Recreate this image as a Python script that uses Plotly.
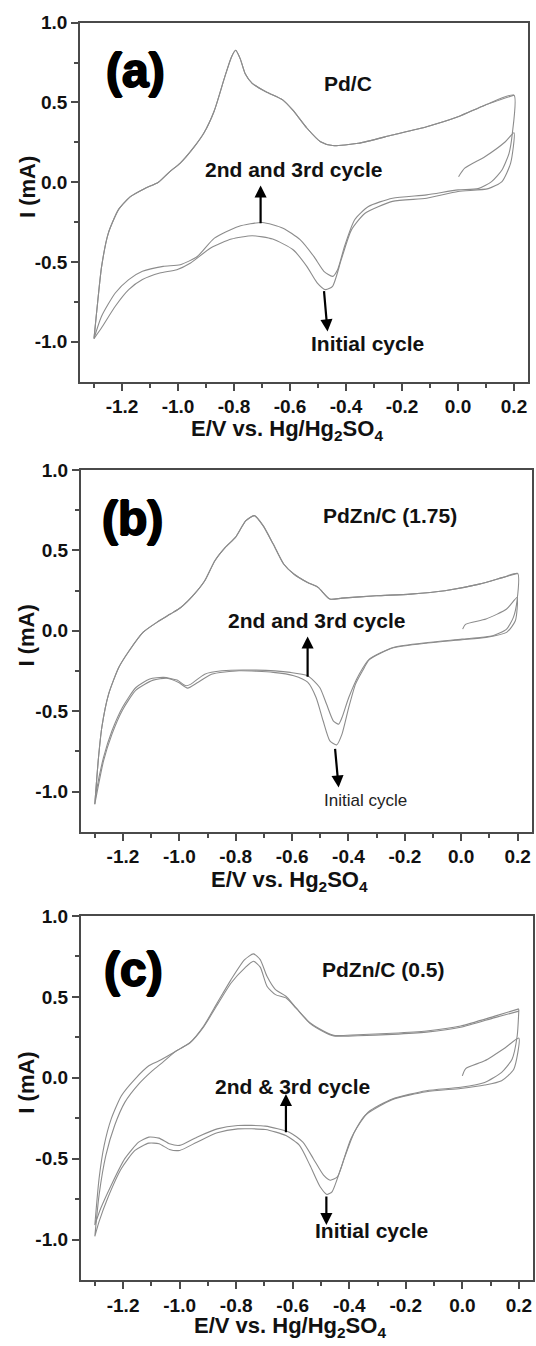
import plotly.graph_objects as go

# ---------------- axes / ticks ----------------
X_RANGE = [-1.35, 0.25]
Y_RANGE = [-1.25, 1.0]
x_tickvals = [-1.2, -1.0, -0.8, -0.6, -0.4, -0.2, 0.0, 0.2]
x_ticktext = ["-1.2", "-1.0", "-0.8", "-0.6", "-0.4", "-0.2", "0.0", "0.2"]
x_minorvals = [-1.3, -1.1, -0.9, -0.7, -0.5, -0.3, -0.1, 0.1]
y_tickvals = [-1.0, -0.5, 0.0, 0.5, 1.0]
y_ticktext = ["-1.0", "-0.5", "0.0", "0.5", "1.0"]
y_minorvals = [-0.75, -0.25, 0.25, 0.75]

# ---------------- panel (a) Pd/C ----------------
a_init_E = [0.002, 0.024, 0.096, 0.169, 0.2, 0.188, 0.157, 0.108, 0.0, -0.112, -0.234, -0.332, -0.381,
            -0.417, -0.448, -0.473, -0.503, -0.54, -0.589, -0.662, -0.735, -0.809, -0.882, -0.955,
            -1.004, -1.065, -1.127, -1.176, -1.224, -1.273, -1.3]
a_init_I = [0.035, 0.088, 0.16, 0.254, 0.31, 0.12, 0.004, -0.04, -0.058, -0.1, -0.12, -0.194, -0.3,
            -0.485, -0.652, -0.673, -0.63, -0.527, -0.423, -0.356, -0.335, -0.356, -0.41, -0.506,
            -0.548, -0.569, -0.61, -0.673, -0.777, -0.912, -0.98]
a_cath_E = [0.2, 0.194, 0.182, 0.157, 0.12, 0.072, 0.0, -0.112, -0.234, -0.32, -0.369, -0.405, -0.43,
            -0.448, -0.479, -0.515, -0.564, -0.625, -0.699, -0.784, -0.87, -0.931, -0.992, -1.053,
            -1.127, -1.176, -1.224, -1.273, -1.3]
a_cath_I = [0.546, 0.306, 0.18, 0.077, 0.004, -0.04, -0.048, -0.079, -0.1, -0.152, -0.235, -0.4, -0.548,
            -0.59, -0.558, -0.465, -0.36, -0.288, -0.252, -0.277, -0.35, -0.465, -0.517, -0.527,
            -0.558, -0.61, -0.694, -0.84, -0.98]
a_an_E = [-1.3, -1.286, -1.273, -1.249, -1.212, -1.17, -1.12, -1.07, -1.029, -0.992, -0.943, -0.907,
          -0.87, -0.833, -0.809, -0.794, -0.778, -0.76, -0.735, -0.686, -0.625, -0.589, -0.54, -0.491,
          -0.448, -0.356, -0.234, -0.112, 0.0, 0.096, 0.2]
a_an_I = [-0.98, -0.735, -0.53, -0.32, -0.17, -0.09, -0.04, 0.0, 0.067, 0.12, 0.22, 0.31,
          0.45, 0.66, 0.785, 0.827, 0.775, 0.68, 0.62, 0.567, 0.515, 0.45, 0.34, 0.254,
          0.23, 0.244, 0.296, 0.348, 0.41, 0.483, 0.546]

# ---------------- panel (b) PdZn/C (1.75) ----------------
b_init_E = [0.005, 0.015, 0.088, 0.161, 0.198, 0.192, 0.161, 0.088, 0.003, -0.119, -0.241, -0.326, -0.35,
            -0.375, -0.399, -0.423, -0.442, -0.466, -0.49, -0.515, -0.545, -0.594, -0.667, -0.788,
            -0.886, -0.935, -0.971, -1.002, -1.044, -1.093, -1.154, -1.202, -1.239, -1.269, -1.3]
b_init_I = [0.01, 0.04, 0.073, 0.135, 0.207, 0.062, -0.01, -0.041, -0.056, -0.076, -0.106, -0.18, -0.249,
            -0.332, -0.477, -0.643, -0.71, -0.685, -0.56, -0.415, -0.32, -0.28, -0.259, -0.249,
            -0.27, -0.322, -0.357, -0.322, -0.295, -0.307, -0.369, -0.494, -0.643, -0.81, -1.079]
b_cath_E = [0.2, 0.198, 0.185, 0.161, 0.112, 0.003, -0.119, -0.241, -0.326, -0.362, -0.399, -0.423,
            -0.435, -0.454, -0.478, -0.502, -0.545, -0.606, -0.728, -0.849, -0.91, -0.959, -0.977,
            -1.008, -1.056, -1.105, -1.154, -1.202, -1.239, -1.269, -1.294, -1.3]
b_cath_I = [0.357, 0.187, 0.083, 0.01, -0.031, -0.052, -0.073, -0.104, -0.176, -0.27, -0.415, -0.54,
            -0.581, -0.56, -0.456, -0.353, -0.28, -0.259, -0.245, -0.249, -0.27, -0.332, -0.342,
            -0.307, -0.29, -0.3, -0.353, -0.477, -0.622, -0.788, -0.996, -1.079]
b_an_E = [-1.3, -1.288, -1.275, -1.251, -1.215, -1.178, -1.129, -1.08, -1.032, -0.995, -0.947, -0.91,
          -0.874, -0.837, -0.801, -0.764, -0.734, -0.703, -0.667, -0.63, -0.594, -0.545, -0.508,
          -0.466, -0.423, -0.302, -0.18, -0.058, 0.064, 0.149, 0.2]
b_an_I = [-1.079, -0.81, -0.6, -0.394, -0.228, -0.124, -0.01, 0.052, 0.104, 0.145, 0.228, 0.311,
          0.436, 0.519, 0.581, 0.685, 0.716, 0.654, 0.539, 0.415, 0.353, 0.3, 0.27,
          0.197, 0.203, 0.218, 0.228, 0.249, 0.29, 0.332, 0.357]

# ---------------- panel (c) PdZn/C (0.5) ----------------
c_init_E = [0.0, 0.012, 0.079, 0.152, 0.2, 0.182, 0.139, 0.079, -0.006, -0.127, -0.248, -0.345, -0.394,
            -0.43, -0.461, -0.479, -0.503, -0.539, -0.576, -0.624, -0.697, -0.794, -0.867, -0.939,
            -1.0, -1.036, -1.073, -1.109, -1.158, -1.206, -1.255, -1.285, -1.3]
c_init_I = [0.012, 0.057, 0.105, 0.186, 0.245, 0.053, -0.018, -0.045, -0.066, -0.086, -0.135, -0.234, -0.377,
            -0.561, -0.705, -0.721, -0.674, -0.541, -0.418, -0.357, -0.32, -0.316, -0.34, -0.398,
            -0.449, -0.443, -0.408, -0.404, -0.449, -0.561, -0.746, -0.889, -0.98]
c_cath_E = [0.2, 0.194, 0.176, 0.139, 0.079, -0.006, -0.127, -0.248, -0.333, -0.382, -0.418, -0.442,
            -0.467, -0.491, -0.527, -0.564, -0.612, -0.697, -0.794, -0.867, -0.939, -1.0, -1.036,
            -1.073, -1.109, -1.145, -1.194, -1.242, -1.279, -1.3]
c_cath_I = [0.422, 0.258, 0.115, 0.033, -0.029, -0.059, -0.08, -0.131, -0.213, -0.336, -0.5, -0.613,
            -0.633, -0.602, -0.5, -0.398, -0.336, -0.299, -0.295, -0.316, -0.367, -0.418, -0.408,
            -0.373, -0.367, -0.398, -0.5, -0.664, -0.807, -0.91]
c_an1_E = [-1.3, -1.285, -1.267, -1.242, -1.206, -1.158, -1.109, -1.073, -1.012, -0.964, -0.915, -0.867,
           -0.818, -0.77, -0.739, -0.715, -0.691, -0.661, -0.624, -0.588, -0.539, -0.491, -0.455,
           -0.37, -0.248, -0.127, -0.006, 0.115, 0.2]
c_an1_I = [-0.91, -0.623, -0.418, -0.254, -0.111, -0.008, 0.074, 0.105, 0.166, 0.217, 0.32, 0.463,
           0.607, 0.73, 0.766, 0.73, 0.627, 0.545, 0.504, 0.432, 0.34, 0.289, 0.262,
           0.266, 0.275, 0.289, 0.32, 0.381, 0.426]
c_an2_E = [-1.3, -1.285, -1.261, -1.23, -1.194, -1.145, -1.097, -1.061, -1.012, -0.964, -0.915, -0.867,
           -0.818, -0.77, -0.739, -0.715, -0.691, -0.661, -0.624, -0.588, -0.539, -0.491, -0.455,
           -0.37, -0.248, -0.127, -0.006, 0.115, 0.2]
c_an2_I = [-0.98, -0.725, -0.48, -0.295, -0.152, -0.039, 0.043, 0.094, 0.166, 0.215, 0.315, 0.45,
           0.586, 0.678, 0.72, 0.684, 0.566, 0.514, 0.494, 0.43, 0.336, 0.284, 0.258,
           0.26, 0.268, 0.282, 0.312, 0.372, 0.412]

panels = [
    dict(traces=[(a_init_E + a_an_E, a_init_I + a_an_I), (a_cath_E + a_an_E, a_cath_I + a_an_I)],
         dom_x=[80 / 536, 528 / 536], dom_y=[1 - 381.7 / 1346, 1 - 22.7 / 1346],
         xtitle="E/V vs. Hg/Hg<sub>2</sub>SO<sub>4</sub>", xtitle_y=1 - 430 / 1346),
    dict(traces=[(b_init_E + b_an_E, b_init_I + b_an_I), (b_cath_E + b_an_E, b_cath_I + b_an_I)],
         dom_x=[80.7 / 536, 531.7 / 536], dom_y=[1 - 831.7 / 1346, 1 - 470 / 1346],
         xtitle="E/V vs. Hg<sub>2</sub>SO<sub>4</sub>", xtitle_y=1 - 881 / 1346),
    dict(traces=[(c_init_E + c_an2_E, c_init_I + c_an2_I), (c_cath_E + c_an1_E, c_cath_I + c_an1_I)],
         dom_x=[80.7 / 536, 533 / 536], dom_y=[1 - 1280 / 1346, 1 - 916 / 1346],
         xtitle="E/V vs. Hg/Hg<sub>2</sub>SO<sub>4</sub>", xtitle_y=1 - 1327 / 1346),
]

FONT = "Liberation Sans, Arial, sans-serif"
AX_COL = "#4a4a4a"
CURVE_COL = "#8c8c8c"
TXT = "#111111"

fig = go.Figure()
annotations = []
for i, p in enumerate(panels, start=1):
    xa = "x" if i == 1 else f"x{i}"
    ya = "y" if i == 1 else f"y{i}"
    for (xs, ys) in p["traces"]:
        fig.add_trace(go.Scatter(x=xs, y=ys, mode="lines", xaxis=xa, yaxis=ya,
                                 line=dict(color=CURVE_COL, width=1.1, shape="spline", smoothing=0.6),
                                 showlegend=False, hoverinfo="skip"))
    axis_common = dict(showline=True, linecolor=AX_COL, linewidth=1.6, mirror=True,
                       ticks="outside", ticklen=7, tickwidth=1.5, tickcolor=AX_COL,
                       showgrid=False, zeroline=False, automargin=False,
                       tickfont=dict(family=FONT, size=19, color=TXT, weight="bold"))
    fig.update_layout({
        ("xaxis" if i == 1 else f"xaxis{i}"): dict(
            axis_common, domain=p["dom_x"], range=X_RANGE, anchor=ya,
            tickmode="array", tickvals=x_tickvals, ticktext=x_ticktext,
            minor=dict(tickmode="array", tickvals=x_minorvals, ticks="outside", ticklen=4,
                       tickwidth=1.5, tickcolor=AX_COL)),
        ("yaxis" if i == 1 else f"yaxis{i}"): dict(
            axis_common, domain=p["dom_y"], range=Y_RANGE, anchor=xa,
            tickmode="array", tickvals=y_tickvals, ticktext=y_ticktext,
            minor=dict(tickmode="array", tickvals=y_minorvals, ticks="outside", ticklen=4,
                       tickwidth=1.5, tickcolor=AX_COL)),
    })
    # axis titles
    annotations.append(dict(text=p["xtitle"], xref=xa, yref="paper", x=-0.61, y=p["xtitle_y"],
                            showarrow=False, xanchor="center", yanchor="middle",
                            font=dict(family=FONT, size=22, color=TXT, weight="bold")))
    annotations.append(dict(text="I (mA)", xref="paper", yref=ya, x=27 / 536, y=-0.03,
                            textangle=-90, showarrow=False, xanchor="center", yanchor="middle",
                            font=dict(family=FONT, size=22, color=TXT, weight="bold")))

BIG = dict(family=FONT, size=48, color="#000000", weight="bold",
           shadow="1px 0 0 #000, -1px 0 0 #000, 0 1px 0 #000, 0 -1px 0 #000")
LBL = dict(family=FONT, size=21, color=TXT, weight="bold")
LBL_THIN = dict(family=FONT, size=17, color="#222222")


def txt(text, xa, ya, x, y, font):
    return dict(text=text, xref=xa, yref=ya, x=x, y=y, showarrow=False,
                xanchor="center", yanchor="middle", font=font)


def arrow(xa, ya, x0, y0, x1, y1):
    return dict(text="", xref=xa, yref=ya, axref=xa, ayref=ya, x=x1, y=y1, ax=x0, ay=y0,
                showarrow=True, arrowhead=2, arrowsize=1.1, arrowwidth=2.2, arrowcolor="#000000")


# panel a
annotations += [
    txt("(a)", "x", "y", -1.151, 0.70, BIG),
    txt("Pd/C", "x", "y", -0.393, 0.62, LBL),
    txt("2nd and 3rd cycle", "x", "y", -0.586, 0.077, LBL),
    txt("Initial cycle", "x", "y", -0.322, -1.01, LBL),
    arrow("x", "y", -0.705, -0.267, -0.705, -0.02),
    arrow("x", "y", -0.479, -0.673, -0.466, -0.935),
]
# panel b
annotations += [
    txt("(b)", "x2", "y2", -1.166, 0.70, BIG),
    txt("PdZn/C (1.75)", "x2", "y2", -0.253, 0.716, LBL),
    txt("2nd and 3rd cycle", "x2", "y2", -0.515, 0.062, LBL),
    txt("Initial cycle", "x2", "y2", -0.34, -1.054, LBL_THIN),
    arrow("x2", "y2", -0.545, -0.295, -0.545, -0.035),
    arrow("x2", "y2", -0.448, -0.726, -0.435, -0.975),
]
# panel c
annotations += [
    txt("(c)", "x3", "y3", -1.164, 0.67, BIG),
    txt("PdZn/C (0.5)", "x3", "y3", -0.279, 0.668, LBL),
    txt("2nd &amp; 3rd cycle", "x3", "y3", -0.6, -0.053, LBL),
    txt("Initial cycle", "x3", "y3", -0.321, -0.947, LBL),
    arrow("x3", "y3", -0.624, -0.346, -0.624, -0.1),
    arrow("x3", "y3", -0.481, -0.725, -0.481, -0.91),
]

fig.update_layout(width=536, height=1346, margin=dict(l=0, r=0, t=0, b=0),
                  paper_bgcolor="white", plot_bgcolor="white",
                  annotations=annotations, showlegend=False)

fig.write_html("out.html")
